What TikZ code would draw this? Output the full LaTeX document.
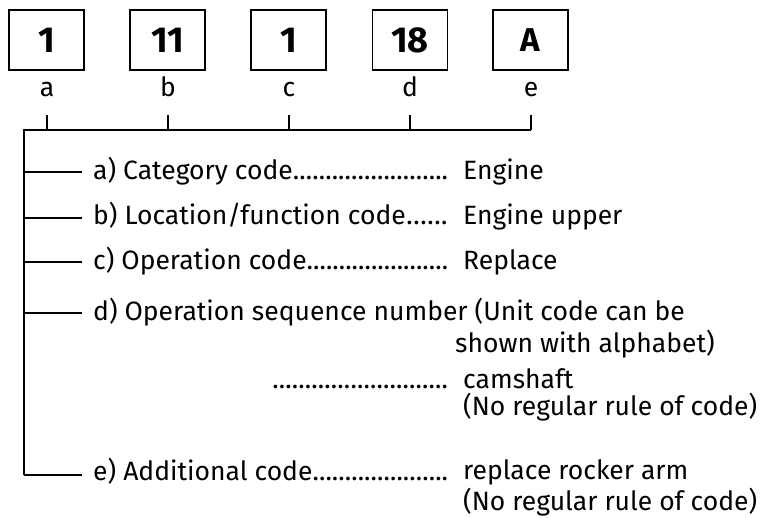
\documentclass[tikz,border=0pt]{standalone}
\usepackage{fontspec}
\setmainfont{Fira Sans}
\newcommand\dotlead{\xleaders\hbox{.}\hfill}
\begin{document}
\begin{tikzpicture}[x=1pt,y=-1pt,
  codebox/.style={draw,line width=1.8pt,minimum width=75pt,minimum height=60pt,inner sep=0pt,font=\fontsize{36}{40}\selectfont\bfseries},
  letter/.style={inner sep=0pt,anchor=base,font=\fontsize{26.5}{30}\selectfont},
  lbl/.style={inner sep=0pt,anchor=base west,font=\fontsize{26.5}{30}\selectfont},
  wire/.style={line width=1.8pt}]
\useasboundingbox (0,0) rectangle (762,517);
% boxes
\node[codebox] (b1) at (46.5,40) {1};
\node[codebox] (b2) at (167.5,40) {11};
\node[codebox] (b3) at (288.5,40) {1};
\node[codebox] (b4) at (410,40) {18};
\node[codebox,font=\fontsize{33}{36}\selectfont\bfseries] (b5) at (530.5,40) {A};
% letters
\node[letter] (la) at (47,96) {a};
\node[letter] (lb) at (168,96) {b};
\node[letter] (lc) at (289,96) {c};
\node[letter] (ld) at (410,96) {d};
\node[letter] (le) at (531,96) {e};
% ticks
\foreach \n/\x in {ta/47,tb/168,tc/289,td/410,te/531}{
  \coordinate (\n) at (\x,115);
  \coordinate (\n b) at (\x,130);
  \draw[wire] (\n) -- (\n b);
}
\coordinate (corner) at (24,130);
\coordinate (bottom) at (24,475);
\draw[wire] (teb) -- (corner) -- (bottom);
% branches
\foreach \n/\y in {ja/172,jb/218,jc/262,jd/313,je/475}{
  \coordinate (\n) at (24,\y);
  \coordinate (\n e) at (82,\y);
  \draw[wire] (\n) -- (\n e);
}
% labels
\node[lbl] (ta1) at (93,179) {\makebox[355pt][l]{a) Category code\dotlead}};
\node[lbl] (va1) at (463,179) {Engine};
\node[lbl] (tb1) at (93,224) {\makebox[355pt][l]{b) Location/function code\dotlead}};
\node[lbl] (vb1) at (463,224) {Engine upper};
\node[lbl] (tc1) at (93,269) {\makebox[355pt][l]{c) Operation code\dotlead}};
\node[lbl] (vc1) at (463,269) {Replace};
\node[lbl] (td1) at (93,320) {d) Operation sequence number (Unit code can be};
\node[lbl] (td2) at (455,352) {shown with alphabet)};
\node[lbl] (td3) at (272,388) {\makebox[176pt][l]{\dotlead}};
\node[lbl] (vd1) at (463,388) {camshaft};
\node[lbl] (vd2) at (463,415) {(No regular rule of code)};
\node[lbl] (te1) at (93,480) {\makebox[355pt][l]{e) Additional code\dotlead}};
\node[lbl] (ve1) at (463,479) {replace rocker arm};
\node[lbl] (ve2) at (463,510) {(No regular rule of code)};
\end{tikzpicture}
\end{document}
